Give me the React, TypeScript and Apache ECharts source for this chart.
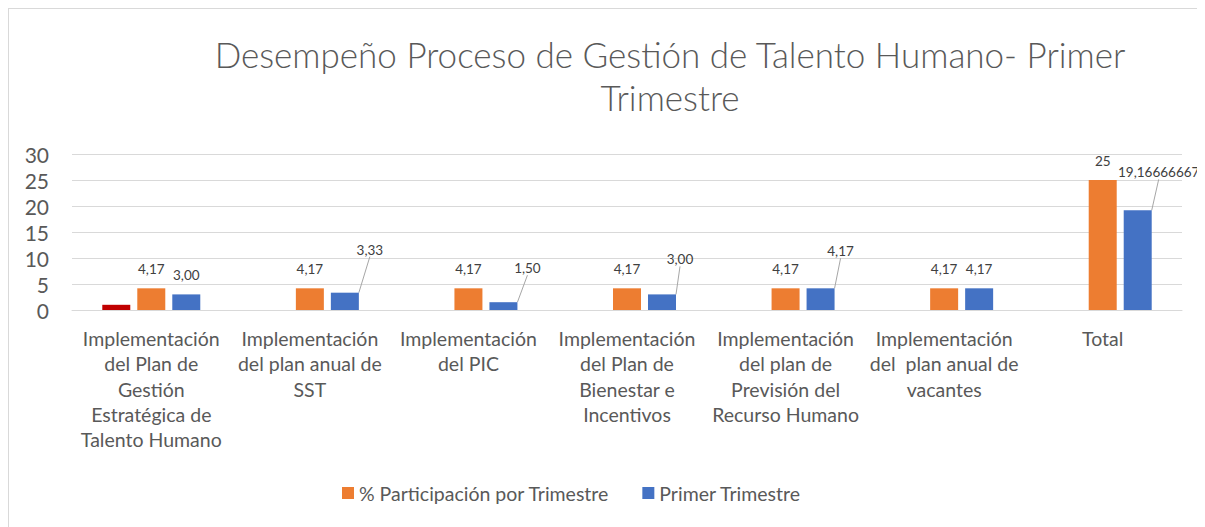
import React, { useEffect, useRef } from "react";
import * as echarts from "echarts";

const TITLE = "Desempeño Proceso de Gestión de Talento Humano- Primer\nTrimestre";
const CATEGORIES = [
  "Implementación\ndel Plan de\nGestión\nEstratégica de\nTalento Humano",
  "Implementación\ndel plan anual de\nSST",
  "Implementación\ndel PIC",
  "Implementación\ndel Plan de\nBienestar e\nIncentivos",
  "Implementación\ndel plan de\nPrevisión del\nRecurso Humano",
  "Implementación\ndel  plan anual de\nvacantes",
  "Total",
];
const SERIES_NAMES = ["% Participación por Trimestre", "Primer Trimestre"];
const RED_VALUES = [1, null, null, null, null, null, null];
const PARTICIPACION = [4.17, 4.17, 4.17, 4.17, 4.17, 4.17, 25];
const PRIMER_TRIMESTRE = [3.0, 3.33, 1.5, 3.0, 4.17, 4.17, 19.16666667];
const Y_TICKS = { min: 0, max: 30, interval: 5 };

// label callout offsets for the blue series (layout, not data)
const BLUE_LABEL_OFFSETS: Array<[number, number] | null> = [
  null, [25, -24], [24, -15], [18, -16], [20, -18], null, [21, -19],
];

const fmt = (v: number, idx: number) => {
  if (idx === CATEGORIES.length - 1) return String(v).replace(".", ",");
  return v.toFixed(2).replace(".", ",");
};

const FONT = "Lato, 'Open Sans', sans-serif";

export default function App() {
  const ref = useRef<HTMLDivElement>(null);
  useEffect(() => {
    if (!ref.current) return;
    const chart = echarts.init(ref.current, null, { renderer: "svg" });
    const labelStyle = {
      show: true,
      position: "top" as const,
      distance: 12,
      fontSize: 13.5,
      color: "#404040",
      fontFamily: FONT,
    };
    chart.setOption({
      animation: false,
      textStyle: { fontFamily: FONT },
      graphic: [
        {
          type: "text",
          x: 661,
          y: 23,
          style: {
            text: TITLE,
            textAlign: "center",
            fontSize: 35,
            fontWeight: 300,
            lineHeight: 43,
            fill: "#595959",
            fontFamily: FONT,
          },
        },
      ],
      legend: {
        data: SERIES_NAMES,
        left: 328,
        top: 469,
        itemWidth: 12,
        itemHeight: 12,
        itemGap: 33,
        icon: "rect",
        textStyle: { fontSize: 19.5, color: "#595959", fontFamily: FONT },
      },
      grid: { left: 63, right: 18, top: 145, bottom: 222 },
      xAxis: {
        type: "category",
        data: CATEGORIES,
        axisLine: { show: true, lineStyle: { color: "#d9d9d9" } },
        axisTick: { show: false },
        axisLabel: {
          interval: 0,
          fontSize: 19.5,
          lineHeight: 25.3,
          color: "#595959",
          margin: 16,
          fontFamily: FONT,
        },
      },
      yAxis: {
        type: "value",
        min: Y_TICKS.min,
        max: Y_TICKS.max,
        interval: Y_TICKS.interval,
        axisLine: { show: false },
        axisTick: { show: false },
        splitLine: { lineStyle: { color: "#d9d9d9", width: 1 } },
        axisLabel: { fontSize: 21, color: "#595959", margin: 23, fontFamily: FONT },
      },
      series: [
        {
          name: "Serie 3",
          type: "bar",
          data: RED_VALUES,
          barWidth: 28,
          barGap: "25%",
          itemStyle: { color: "#C00000" },
        },
        {
          name: SERIES_NAMES[0],
          type: "bar",
          data: PARTICIPACION,
          barWidth: 28,
          barGap: "25%",
          itemStyle: { color: "#ED7D31" },
          label: {
            ...labelStyle,
            formatter: (p: any) => fmt(p.value, p.dataIndex),
          },
        },
        {
          name: SERIES_NAMES[1],
          type: "bar",
          data: PRIMER_TRIMESTRE.map((v, i) => ({
            value: v,
            labelLine: { show: BLUE_LABEL_OFFSETS[i] != null },
          })),
          barWidth: 28,
          barGap: "25%",
          itemStyle: { color: "#4472C4" },
          label: {
            ...labelStyle,
            formatter: (p: any) => fmt(p.value, p.dataIndex),
          },
          labelLine: { show: true, lineStyle: { color: "#a6a6a6", width: 1 } },
          labelLayout: (params: any) => {
            const off = BLUE_LABEL_OFFSETS[params.dataIndex];
            return off ? { dx: off[0], dy: off[1] } : {};
          },
        },
      ],
    });
    return () => chart.dispose();
  }, []);
  return (
    <div
      style={{
        width: 1193,
        height: 525,
        border: "1px solid #d9d9d9",
        boxSizing: "border-box",
        background: "#fff",
      }}
    >
      <div ref={ref} style={{ width: 1191, height: 523 }} />
    </div>
  );
}
